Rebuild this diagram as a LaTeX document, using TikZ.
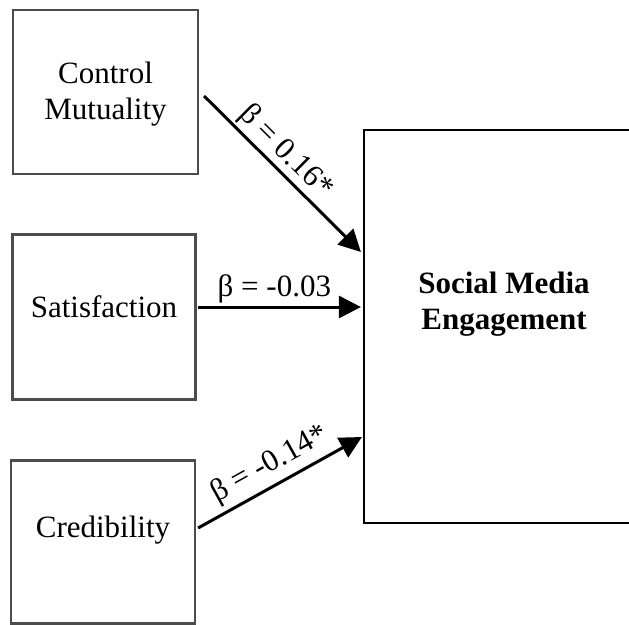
\documentclass[tikz,border=0pt]{standalone}
\usepackage{fontspec}
\setmainfont{Liberation Serif}
\usetikzlibrary{arrows.meta}
\begin{document}
\begin{tikzpicture}[x=1pt,y=-1pt,
  varbox/.style={draw=black!70, line width=2.2pt, minimum width=#1, inner sep=0pt},
  varlbl/.style={align=center, font=\fontsize{31}{36}\selectfont, inner sep=0pt},
  path/.style={line width=3pt, -{Triangle[length=22pt,width=22pt]}},
  coef/.style={font=\fontsize{31}{36}\selectfont, inner sep=2pt}
]
\useasboundingbox (0,0) rectangle (629,624);
% predictor boxes
\node[varbox=185pt, minimum height=164pt] (cm) at (105.5,92) {};
\node[varbox=183pt, minimum height=165pt] (sat) at (104,317) {};
\node[varbox=184pt, minimum height=163pt] (cred) at (103,542) {};
\node[varlbl] (cmlbl) at ([yshift=-2pt]cm.center) {Control\\Mutuality};
\node[varlbl] (satlbl) at ([yshift=10pt]sat.center) {Satisfaction};
\node[varlbl] (credlbl) at ([yshift=12pt]cred.center) {Credibility};
% outcome box (runs past the right edge)
\node[draw=black, line width=2.2pt, minimum width=280pt, minimum height=393pt, inner sep=0pt] (eng) at (504,326.5) {};
\node[font=\bfseries\fontsize{31}{36}\selectfont, align=center] (englbl) at (504,304) {Social Media\\Engagement};
% paths with coefficients
\draw[path] ([xshift=5pt,yshift=-4pt]cm.east) -- node[coef, sloped, above, pos=0.44] (b1) {β = 0.16*} ([xshift=-2pt,yshift=74.5pt]eng.west);
\draw[path] ([xshift=1pt,yshift=10pt]sat.east) -- node[coef, above, pos=0.47] (b2) {β = -0.03} ([xshift=-2pt,yshift=19.5pt]eng.west);
\draw[path] ([xshift=2pt,yshift=14pt]cred.east) -- node[coef, sloped, above=3pt, pos=0.5] (b3) {β = -0.14*} ([xshift=-1pt,yshift=-110.5pt]eng.west);
\end{tikzpicture}
\end{document}
